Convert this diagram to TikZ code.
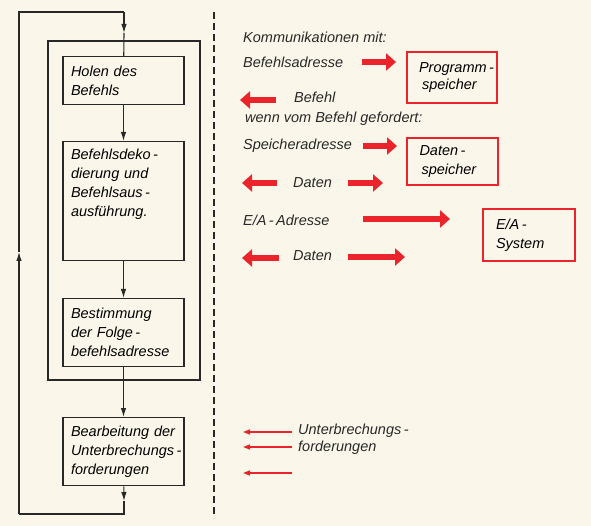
\documentclass[tikz,border=0pt]{standalone}
\usepackage{fontspec}
\setmainfont{Liberation Sans}
\usepackage{tikz}
\usetikzlibrary{arrows.meta}
\definecolor{sigred}{RGB}{234,36,42}
\definecolor{paper}{RGB}{250,247,234}
\definecolor{ink}{RGB}{40,40,40}
\tikzset{
  flowbox/.style  = {draw=ink,line width=1.4pt,anchor=north,text width=105pt,align=left,
                     inner xsep=8pt,inner ysep=6pt,minimum width=121pt},
  membox/.style   = {draw=sigred,line width=1.3pt,align=left,inner ysep=0pt,inner xsep=12pt,text width=66pt},
  flowarr/.style  = {-{Latex[length=9pt,width=5.5pt]},ink,line width=1.1pt},
  loopline/.style = {ink,line width=1.1pt},
  busarr/.style   = {-{Triangle[length=10pt,width=17pt]},sigred,line width=6pt},
  intarr/.style   = {-{Triangle[length=7pt,width=5pt]},sigred,line width=1.4pt},
  txt/.style      = {anchor=west,inner sep=0pt,text=ink}
}

\begin{document}
\begin{tikzpicture}[x=1pt,y=-1pt,font=\fontsize{14.5pt}{19pt}\selectfont\itshape]
  \useasboundingbox (0,0) rectangle (591,526);
  \fill[paper] (0,0) rectangle (591,526);

  % Befehlszyklus
  \node[flowbox,minimum height=48pt]                 (holen)  at (123.5,56)  {Holen des\\Befehls};
  \node[flowbox,minimum height=119pt,text depth=94pt] (dekod)  at (123.5,141) {Befehlsdeko\,-\\dierung und\\Befehlsaus\,-\\ausführung.};
  \node[flowbox,minimum height=68pt]                 (bestim) at (123.5,298) {Bestimmung\\der Folge\,-\\befehlsadresse};
  \node[flowbox,minimum height=68pt]                 (bearb)  at (123.5,417) {Bearbeitung der\\\mbox{Unterbrechungs\,-}\\forderungen};
  \draw[ink,line width=1.4pt] (48,41) rectangle (200,380);

  \draw[flowarr] (holen) -- (dekod);
  \draw[flowarr] (dekod) -- (bestim);
  \draw[flowarr] (bestim) -- (bearb);

  \coordinate (r1) at (124,501);
  \coordinate (r2) at (124,514);
  \coordinate (r3) at (19,514);
  \coordinate (r4) at (19,252);
  \coordinate (r5) at (19,12);
  \coordinate (r6) at (124,12);
  \coordinate (r7) at (124,33);
  \draw[flowarr]  (bearb) -- (r1);
  \draw[loopline] (r1) -- (r2) -- (r3);
  \draw[flowarr]  (r3) -- (r4);
  \draw[loopline] (r4) -- (r5) -- (r6);
  \draw[flowarr]  (r6) -- (r7);
  \draw[loopline] (r7) -- (holen);

  \coordinate (dtop) at (214,12);
  \coordinate (dbot) at (214,518);
  \draw[ink,line width=1.3pt,dash pattern=on 7pt off 4pt] (dtop) -- (dbot);

  % Kommunikationen
  \node[txt] (komm)   at (243,37)  {Kommunikationen mit:};
  \node[txt] (befadr) at (243,62)  {Befehlsadresse};
  \node[txt] (befehl) at (294,97)  {Befehl};
  \node[txt] (wenn)   at (245,119) {wenn vom Befehl gefordert:};
  \node[txt] (spadr)  at (243,146) {Speicheradresse};
  \node[txt] (datA)   at (293,183) {Daten};
  \node[txt] (eaadr)  at (243,220) {E/A\,-\,Adresse};
  \node[txt] (datB)   at (293,256) {Daten};
  \node[txt] (unterb) at (298,431) {Unterbrechungs\,-};
  \node[txt] (ford)   at (298,448) {forderungen};

  \node[membox,minimum width=90pt,minimum height=51pt,font=\fontsize{14.5pt}{17pt}\selectfont\itshape]
       (prog)  at (452,77.5)  {\mbox{Programm\,-}\\\hspace*{3pt}speicher};
  \node[membox,minimum width=91pt,minimum height=47pt] (datsp) at (452.5,161.5) {Daten\,-\\\hspace*{2pt}speicher};
  \node[membox,minimum width=92pt,minimum height=52pt] (easys) at (529,235)   {E/A\,-\\System};

  \coordinate (p1) at (362,62);  \coordinate (p2) at (396,62);
  \coordinate (p3) at (276,100); \coordinate (p4) at (240,100);
  \coordinate (p5) at (363,146); \coordinate (p6) at (397,146);
  \coordinate (p7) at (277,183); \coordinate (p8) at (242,183);
  \coordinate (p9) at (348,183); \coordinate (p10) at (383,183);
  \coordinate (p11) at (363,219); \coordinate (p12) at (450,219);
  \coordinate (p13) at (279,258); \coordinate (p14) at (242,258);
  \coordinate (p15) at (348,257); \coordinate (p16) at (405,257);
  \draw[busarr] (p1) -- (p2);
  \draw[busarr] (p3) -- (p4);
  \draw[busarr] (p5) -- (p6);
  \draw[busarr] (p7) -- (p8);
  \draw[busarr] (p9) -- (p10);
  \draw[busarr] (p11) -- (p12);
  \draw[busarr] (p13) -- (p14);
  \draw[busarr] (p15) -- (p16);

  \coordinate (u1) at (292,432); \coordinate (u2) at (243,432);
  \coordinate (u3) at (292,447); \coordinate (u4) at (243,447);
  \coordinate (u5) at (292,473); \coordinate (u6) at (243,473);
  \draw[intarr] (u1) -- (u2);
  \draw[intarr] (u3) -- (u4);
  \draw[intarr] (u5) -- (u6);
\end{tikzpicture}
\end{document}
